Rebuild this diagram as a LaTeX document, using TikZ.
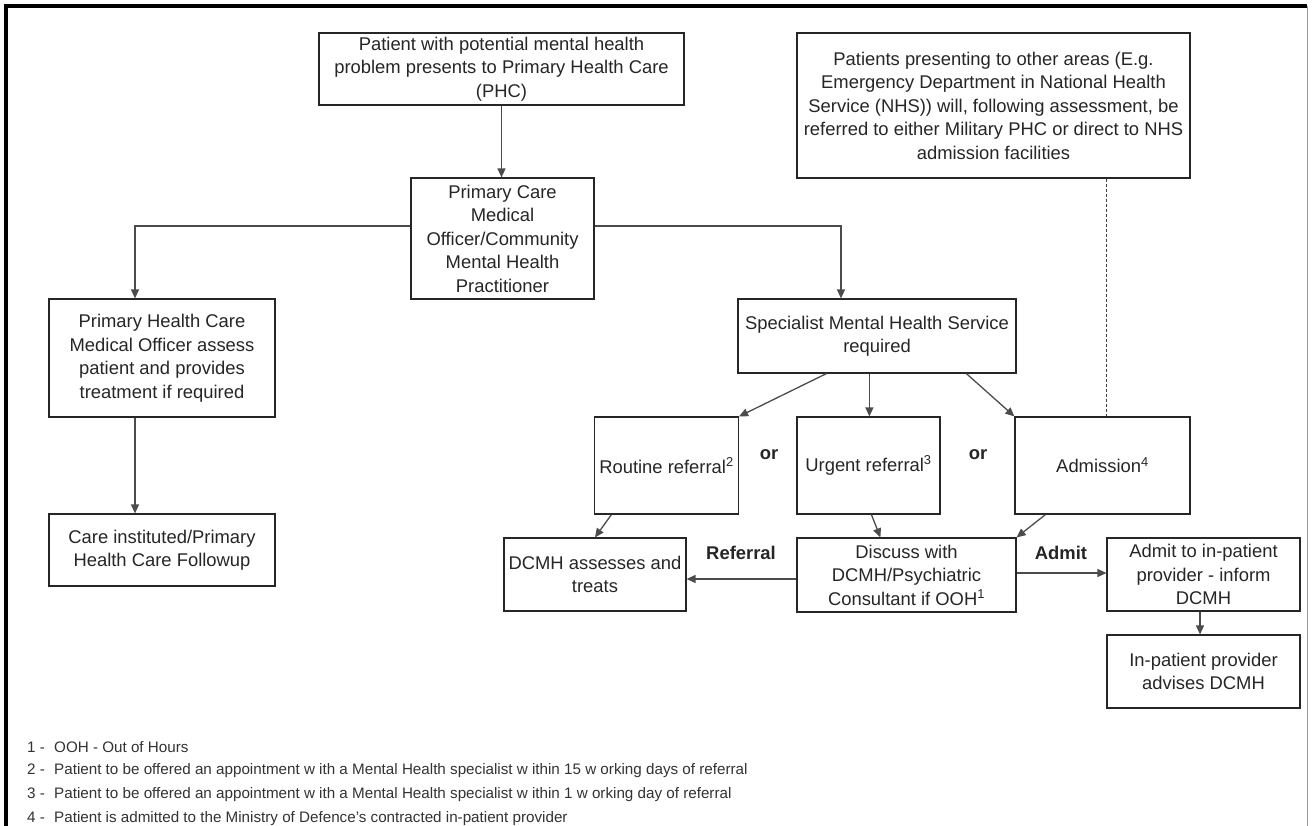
\documentclass[tikz,border=0pt]{standalone}
\usepackage{fontspec}
\setmainfont{Liberation Sans}
\usetikzlibrary{arrows.meta}
\begin{document}
\begin{tikzpicture}[x=1pt,y=-1pt,
  box/.style={draw=black!85, line width=1.2pt, align=center, inner sep=0pt, text=black!85,
    font=\fontsize{18.4}{23.5}\selectfont},
  conn/.style={draw=black!70, line width=1.3pt, -{Triangle[length=9pt,width=8pt]}},
  dashconn/.style={draw=black!75, line width=1.1pt, dash pattern=on 3pt off 2pt},
  lbl/.style={font=\fontsize{18.4}{22}\selectfont\bfseries, text=black!85, inner sep=0pt},
  fn/.style={anchor=west, font=\fontsize{15.2}{17}\selectfont, text=black!80, inner sep=0pt}]
\fill[white] (0,0) rectangle (1314,826);
\useasboundingbox (0,0) rectangle (1314,826);
% frame
\draw[line width=4pt, black] (6,826) -- (6,6) -- (1307,6);
\draw[line width=1pt, black!40] (1307,6) -- (1307,826);

% boxes
\node[box, minimum width=365pt, minimum height=72pt] (top) at (501.5,69)
  {Patient with potential mental health\\problem presents to Primary Health Care\\(PHC)};
\node[box, minimum width=183pt, minimum height=121pt] (pcmo) at (502.5,238.5)
  {Primary Care\\Medical\\Officer/Community\\Mental Health\\Practitioner};
\node[box, minimum width=393pt, minimum height=145pt] (nhs) at (993.5,105.5)
  {Patients presenting to other areas (E.g.\\Emergency Department in National Health\\Service (NHS)) will, following assessment, be\\referred to either Military PHC or direct to NHS\\admission facilities};
\node[box, minimum width=226pt, minimum height=118pt] (phc) at (162,358)
  {Primary Health Care\\Medical Officer assess\\patient and provides\\treatment if required};
\node[box, minimum width=226pt, minimum height=72pt] (care) at (162,550)
  {Care instituted/Primary\\Health Care Followup};
\node[box, minimum width=278pt, minimum height=74pt] (spec) at (877,336)
  {Specialist Mental Health Service\\required};
\node[box, minimum width=144pt, minimum height=97pt] (routine) at (666.5,465.5)
  {Routine referral\textsuperscript{2}};
\node[box, minimum width=143pt, minimum height=97pt] (urgent) at (868.5,465.5)
  {Urgent referral\textsuperscript{3}};
\node[box, minimum width=175pt, minimum height=97pt] (admission) at (1102.5,465.5)
  {Admission\textsuperscript{4}};
\node[box, minimum width=182pt, minimum height=73pt] (dcmh) at (595,574.5)
  {DCMH assesses and\\treats};
\node[box, minimum width=219pt, minimum height=74pt] (discuss) at (906.5,575)
  {Discuss with\\DCMH/Psychiatric\\Consultant if OOH\textsuperscript{1}};
\node[box, minimum width=193pt, minimum height=73pt] (admit) at (1203.5,574.5)
  {Admit to in-patient\\provider - inform\\DCMH};
\node[box, minimum width=193pt, minimum height=73pt] (inpat) at (1203.5,671.5)
  {In-patient provider\\advises DCMH};

% labels
\node[lbl] (or1) at (769,455) {or};
\node[lbl] (or2) at (978,455) {or};
\node[lbl] (lref) at (741,553) {Referral};
\node[lbl] (ladm) at (1061,553) {Admit};

% connectors
\coordinate (jl) at (135,226);
\coordinate (jr) at (841,226);
\draw[conn] (top.south) -- (top.south |- pcmo.north);
\draw[conn] (pcmo.west |- jl) -- (jl) -- (jl |- phc.north);
\draw[conn] (pcmo.east |- jr) -- (jr) -- (jr |- spec.north);
\draw[conn] (jl |- phc.south) -- (jl |- care.north);
\draw[conn] ([xshift=89pt]spec.south west) -- (routine.north east);
\draw[conn] ([xshift=132pt]spec.south west) -- ([xshift=132pt]spec.south west |- urgent.north);
\draw[conn] ([xshift=229pt]spec.south west) -- (admission.north west);
\draw[dashconn] ([xshift=310pt]nhs.south west) -- ([xshift=310pt]nhs.south west |- admission.north);
\draw[conn] ([xshift=17.5pt]routine.south west) -- (dcmh.north);
\draw[conn] ([xshift=75pt]urgent.south west) -- ([xshift=84pt]discuss.north west);
\draw[conn] ([xshift=31pt]admission.south west) -- (discuss.north east);
\draw[conn] ([yshift=-4pt]discuss.west) -- ([yshift=-4pt]discuss.west -| dcmh.east);
\draw[conn] ([yshift=2pt]discuss.east) -- ([yshift=2pt]discuss.east -| admit.west);
\draw[conn] ([xshift=-3.5pt]admit.south) -- ([xshift=-3.5pt]admit.south |- inpat.north);

% footnotes
\node[fn] (f1) at (27,747) {\makebox[27pt][l]{1 -}OOH - Out of Hours};
\node[fn] (f2) at (27,771) {\makebox[27pt][l]{2 -}Patient to be offered an appointment w ith a Mental Health specialist w ithin 15 w orking days of referral};
\node[fn] (f3) at (27,795) {\makebox[27pt][l]{3 -}Patient to be offered an appointment w ith a Mental Health specialist w ithin 1 w orking day of referral};
\node[fn] (f4) at (27,819) {\makebox[27pt][l]{4 -}Patient is admitted to the Ministry of Defence's contracted in-patient provider};
\end{tikzpicture}
\end{document}
